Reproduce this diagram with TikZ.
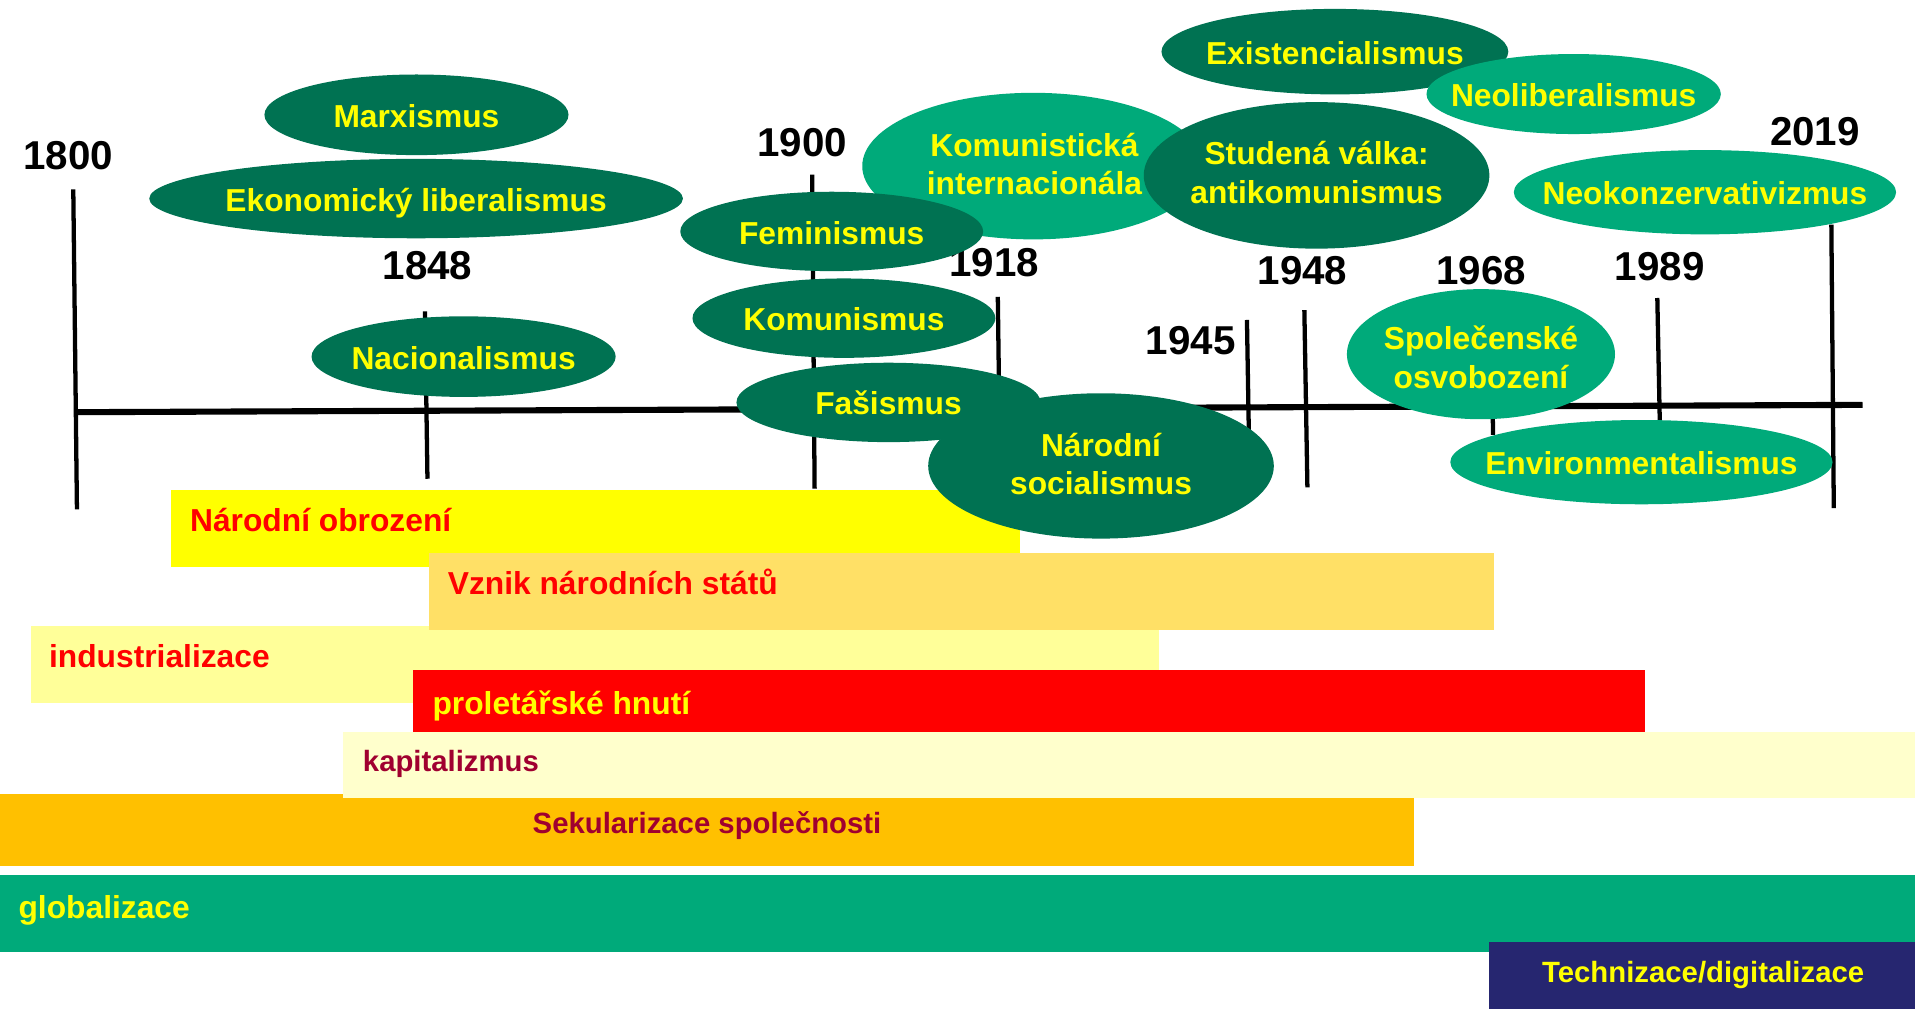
\documentclass[tikz,border=0pt]{standalone}
\usepackage{fontspec}
\setmainfont{Liberation Sans}
\usetikzlibrary{shapes.geometric}
\definecolor{dkgreen}{RGB}{0,114,82}
\definecolor{ltgreen}{RGB}{0,170,122}
\definecolor{txtyellow}{RGB}{255,255,0}
\definecolor{barYellow}{RGB}{255,255,0}
\definecolor{barGold}{RGB}{255,224,102}
\definecolor{barPale}{RGB}{255,255,153}
\definecolor{barRed}{RGB}{255,0,0}
\definecolor{barCream}{RGB}{255,255,204}
\definecolor{barOrange}{RGB}{255,192,0}
\definecolor{barNavy}{RGB}{38,38,112}
\definecolor{darkred}{RGB}{160,0,48}
\tikzset{
  ell/.style={ellipse, draw=none, inner sep=0pt, outer sep=0pt},
  ellD/.style={ell, fill=dkgreen},
  ellL/.style={ell, fill=ltgreen},
  etxt/.style={font=\fontsize{26}{31.5}\selectfont\bfseries, text=txtyellow, inner sep=0pt, align=center},
  etxtone/.style={etxt, text height=18.6pt, text depth=0pt},
  yr/.style={font=\fontsize{33}{40}\selectfont\bfseries, inner sep=0pt, text height=23.6pt, text depth=0pt},
  bar/.style={draw=none, inner sep=0pt, outer sep=0pt, rectangle, anchor=north west},
  btxt/.style={font=\fontsize{26}{30}\selectfont\bfseries, inner sep=0pt, anchor=west, text height=18.6pt, text depth=0pt},
  bstxt/.style={btxt, font=\fontsize{24}{28}\selectfont\bfseries, text height=17.2pt},
  tickline/.style={line width=3.5pt},
  axisline/.style={line width=5pt},
}
\begin{document}
\begin{tikzpicture}[x=1pt,y=-1pt]
\useasboundingbox (0,0) rectangle (1568,826);
% ---------- bars ----------
\node[bar, fill=barYellow, minimum width=695pt, minimum height=62.5pt] (bObr) at (140,401.5) {};
\node[bar, fill=barPale, minimum width=924pt, minimum height=63pt] (bInd) at (25,512.7) {};
\node[bar, fill=barGold, minimum width=872pt, minimum height=63pt] (bVzn) at (351,452.8) {};
\node[bar, fill=barRed, minimum width=1009pt, minimum height=51pt] (bPro) at (338,548.8) {};
\node[bar, fill=barOrange, minimum width=1158pt, minimum height=59pt] (bSek) at (0,650.3) {};
\node[bar, fill=barCream, minimum width=1287pt, minimum height=54pt] (bKap) at (281,599.6) {};
\node[bar, fill=ltgreen, minimum width=1568pt, minimum height=63pt] (bGlo) at (0,716.4) {};
\node[bar, fill=barNavy, minimum width=349pt, minimum height=55pt] (bTech) at (1219,771.4) {};
\node[btxt, text=barRed] (tObr) at (155.5,425.6) {Národní obrození};
\node[btxt, text=barRed] (tVzn) at (366.5,477.4) {Vznik národních států};
\node[btxt, text=barRed] (tInd) at (40,537.2) {industrializace};
\node[btxt, text=txtyellow] (tPro) at (354,575.4) {proletářské hnutí};
\node[bstxt, text=darkred] (tKap) at (297,622.8) {kapitalizmus};
\node[bstxt, text=darkred] (tSek) at (436,673.8) {Sekularizace společnosti};
\node[btxt, text=txtyellow] (tGlo) at (15,742.7) {globalizace};
\node[bstxt, text=txtyellow] (tTech) at (1262.5,795.9) {Technizace/digitalizace};
% ---------- timeline ----------
\coordinate (axL) at (62,337.5);
\coordinate (axR) at (1525,331.5);
\draw[axisline] (axL) -- (axR);
\coordinate (t1800a) at (60,155);     \coordinate (t1800b) at (63,417);
\coordinate (t1848a) at (348,255);    \coordinate (t1848b) at (350,392);
\coordinate (t1900a) at (665,143);    \coordinate (t1900b) at (667,400);
\coordinate (t1918a) at (817,243);    \coordinate (t1918b) at (818,320);
\coordinate (t1945a) at (1021,262);   \coordinate (t1945b) at (1022.5,352);
\coordinate (t1948a) at (1068,254);   \coordinate (t1948b) at (1070.5,399);
\coordinate (t1968a) at (1221,255);   \coordinate (t1968b) at (1222.5,356);
\coordinate (t1989a) at (1357,244);   \coordinate (t1989b) at (1359,344);
\coordinate (t2019a) at (1499.5,184); \coordinate (t2019b) at (1501.5,416);
\foreach \t in {1800,1848,1900,1918,1945,1948,1968,1989,2019}
  \draw[tickline] (t\t a) -- (t\t b);
\node[yr] (y1800) at (56,127) {1800};
\node[yr] (y1848) at (350,217) {1848};
\node[yr] (y1900) at (657,116) {1900};
\node[yr] (y1918) at (814,215) {1918};
\node[yr] (y1945) at (975,278.5) {1945};
\node[yr] (y1948) at (1066.5,221.5) {1948};
\node[yr] (y1968) at (1212.7,221.5) {1968};
\node[yr] (y1989) at (1359,217.7) {1989};
\node[yr] (y2019) at (1486,107) {2019};
% ---------- ellipses ----------
\node[ellD, minimum width=249pt, minimum height=66pt] (marx) at (341,94) {};
\node[etxtone] at (341,95) {Marxismus};
\node[ellD, minimum width=437pt, minimum height=65pt] (ekon) at (340.7,162.6) {};
\node[etxtone] at (340.7,163.6) {Ekonomický liberalismus};
\node[ellD, minimum width=249pt, minimum height=66pt] (naci) at (379.6,292) {};
\node[etxtone] at (379.6,293) {Nacionalismus};
\node[ellL, minimum width=280pt, minimum height=120pt] (komint) at (846,136) {};
\node[etxt] at (847,134.5) {Komunistická\\internacionála};
\node[ellD, minimum width=248pt, minimum height=65pt] (femi) at (681,189.5) {};
\node[etxtone] at (681,190.5) {Feminismus};
\node[ellD, minimum width=248pt, minimum height=65pt] (komu) at (691,260.5) {};
\node[etxtone] at (691,261.5) {Komunismus};
\node[ellD, minimum width=249pt, minimum height=65pt] (fasi) at (727.5,329.5) {};
\node[etxtone] at (727.5,330.5) {Fašismus};
\node[ellD, minimum width=283pt, minimum height=119pt] (narsoc) at (901.5,381.5) {};
\node[etxt] at (901.5,380) {Národní\\socialismus};
\node[ellD, minimum width=284pt, minimum height=70pt] (exis) at (1093,42.3) {};
\node[etxtone] at (1093,43.3) {Existencialismus};
\node[ellL, minimum width=241pt, minimum height=65.5pt] (neolib) at (1288.5,77) {};
\node[etxtone] at (1288.5,78) {Neoliberalismus};
\node[ellD, minimum width=283pt, minimum height=120pt] (stud) at (1078,143.6) {};
\node[etxt] at (1078,141.2) {Studená válka:\\antikomunismus};
\node[ellL, minimum width=313pt, minimum height=69pt] (neokon) at (1396,157.4) {};
\node[etxtone] at (1396,158.4) {Neokonzervativizmus};
\node[ellL, minimum width=219.5pt, minimum height=106.5pt] (spol) at (1212.6,290) {};
\node[etxt] at (1212.6,292.5) {Společenské\\osvobození};
\node[ellL, minimum width=313pt, minimum height=69pt] (envi) at (1344,378.4) {};
\node[etxtone] at (1344,379.4) {Environmentalismus};
\end{tikzpicture}
\end{document}
